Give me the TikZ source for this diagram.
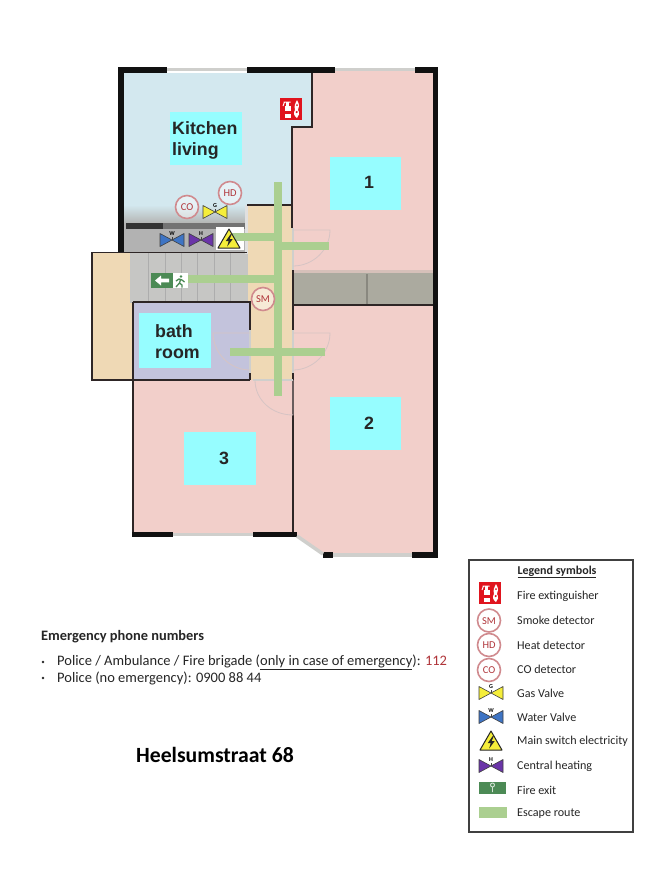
\documentclass[tikz,border=0pt]{standalone}
\usepackage{fontspec}
\setmainfont{Carlito}
\newfontfamily\roomfont{Liberation Sans}
\definecolor{pinkroom}{HTML}{F2CFCA}
\definecolor{blueroom}{HTML}{D3E8EF}
\definecolor{beigeroom}{HTML}{EFD9B5}
\definecolor{bathroomc}{HTML}{C3C3DC}
\definecolor{stairc}{HTML}{C6C6C4}
\definecolor{bandc}{HTML}{ABAA9F}
\definecolor{labelcyan}{HTML}{96FDFF}
\definecolor{routec}{HTML}{ABCF90}
\definecolor{exitgreen}{HTML}{4C8A55}
\definecolor{wallc}{HTML}{111111}
\definecolor{thinwall}{HTML}{2E2626}
\definecolor{glassc}{HTML}{CFCFCC}
\definecolor{doorc}{HTML}{D6C4C4}
\definecolor{detect}{HTML}{D08A8E}
\definecolor{detecttxt}{HTML}{B0353A}
\definecolor{firered}{HTML}{E0141E}
\definecolor{gasy}{HTML}{F5EE3A}
\definecolor{waterb}{HTML}{3E74C4}
\definecolor{heatp}{HTML}{6A34A8}
\definecolor{txtc}{HTML}{262626}
\tikzset{
  room/.style={fill=#1,draw=none},
  heavywall/.style={fill=wallc,draw=none},
  thin wall/.style={draw=thinwall,line width=1.8pt},
  glass/.style={draw=glassc,line width=3.5pt},
  doorleaf/.style={draw=doorc,line width=.8pt},
  route/.style={draw=routec,line width=7.5pt},
  labelbox/.style={fill=labelcyan,draw=none},
  roomlabel/.style={font=\roomfont\bfseries\fontsize{17.8}{21}\selectfont,text=black!85,align=left,inner sep=0pt},
  legendtext/.style={font=\fontsize{12.1}{14}\selectfont,text=txtc,anchor=west,inner sep=0pt},
  bodytext/.style={font=\fontsize{14.5}{17}\selectfont,text=txtc,anchor=west,inner sep=0pt},
  pics/detector/.style={code={
    \draw[detect,line width=1.6pt,fill=white,fill opacity=.45] (0,0) circle[radius=11.5pt];
    \node[text=detecttxt,font=\fontsize{10.5}{11}\selectfont,inner sep=0pt] (-t) at (0,0.5) {#1};
  }},
  pics/valve/.style 2 args={code={
    \draw[fill=#1,draw=black!75,line width=.6pt,line join=round] (-12,-6.5)--(0,0)--(-12,6.5)--cycle;
    \draw[fill=#1,draw=black!75,line width=.6pt,line join=round] (12,-6.5)--(0,0)--(12,6.5)--cycle;
    \draw[black!75,line width=.6pt] (0,0)--(0,-3);
    \node[font=\fontsize{6}{6}\selectfont\bfseries,inner sep=0pt,text=black] (-t) at (0,-6) {#2};
  }},
  pics/elec/.style={code={
    \draw[fill=gasy,draw=black!85,line width=1pt,line join=round] (0,-10)--(11,9)--(-11,9)--cycle;
    \fill[black!85] (1.8,-5)--(-3.2,2)--(-.3,2)--(-1.8,7.5)--(3.6,.2)--(.6,.2)--(2.8,-5)--cycle;
  }},
  pics/extinguisher/.style={code={
    \fill[firered] (-11,-11) rectangle (11,11);
    \fill[white] (-6.5,-3) rectangle (-.5,8.5);
    \fill[white] (-5,-7) rectangle (-2,-3);
    \draw[white,line width=1pt] (-7.5,-7)--(-.5,-7) (-6.5,-7)--(-8,-3);
    \fill[firered] (-6.5,2) rectangle (-.5,4.5);
    \fill[white] (6,-9)..controls (9,-4) and (8,-2)..(7,1)..controls (9,4) and (8,7)..(6,9)..controls (3,7) and (2,4)..(4,1)..controls (3,-3) and (4,-6)..(6,-9)--cycle;
    \fill[firered] (6,-4) circle[radius=1] (5.7,3) circle[radius=1.2];
  }}
}
\begin{document}
\begin{tikzpicture}[x=1pt,y=-1pt]
\useasboundingbox (0,0) rectangle (653,871);
\fill[white] (0,0) rectangle (653,871);
% rooms
\path[room=blueroom] (124,73) rectangle (312,127) (124,127) rectangle (293,225);
\path[room=pinkroom] (312,70) rectangle (433,127) (293,127) rectangle (433,275);
\path[room=pinkroom] (293,304) -- (433,304) -- (433,553) -- (323,553) -- (295,534) -- (293,534) -- cycle;
\path[room=pinkroom] (133,380) rectangle (293,534);
\path[room=beigeroom] (248,205) rectangle (293,380);
\path[room=beigeroom] (92,252) rectangle (132,380);
\path[room=stairc] (130,252) rectangle (248,303);
\path[room=bathroomc] (133,302) rectangle (250,380);
% gray band between the bedrooms
\fill[pinkroom!60!bandc] (293,270) rectangle (433,274);
\path[room=bandc] (293,273) rectangle (433,305);
\draw[bandc!80!black,line width=1.2pt] (367,274) -- (367,304);
% kitchen storage block
\shade[top color=blueroom,bottom color=stairc!90!black] (124,205) rectangle (245,224);
\fill[black!30] (124,224) rectangle (245,252);
\fill[black!55] (126,223) rectangle (245,229);
\fill[black!80] (126,223) rectangle (163,229);
\fill[black!12] (245,205) rectangle (248,254);
% stair treads
\foreach \sx in {148,165,181,197,214,230}
  \draw[black!32,line width=.9pt] (\sx,253) -- (\sx,302);
% outer walls
\path[heavywall] (118,67) rectangle (167,73);
\path[heavywall] (247,67) rectangle (335,73);
\path[heavywall] (415,67) rectangle (438,73);
\path[heavywall] (118,67) rectangle (124,253);
\path[heavywall] (433,67) rectangle (438,558);
\path[heavywall] (132,532) rectangle (173,537);
\path[heavywall] (253,532) rectangle (297,537);
\path[heavywall] (323,552) rectangle (333,558);
\path[heavywall] (412,552) rectangle (438,558);
% windows
\draw[glass] (167,69.5) -- (247,69.5);
\draw[glass] (335,69.5) -- (415,69.5);
\draw[glass] (173,534.5) -- (253,534.5);
\draw[glass] (333,555) -- (412,555);
\draw[glass] (297,536) -- (323,554);
% inner walls
\draw[thin wall] (312,73) -- (312,127) -- (292,127) -- (292,228);
\draw[thin wall] (247,205) -- (292,205);
\draw[thin wall] (92,252.5) -- (247,252.5);
\draw[thin wall] (92,252) -- (92,380) -- (250,380);
\draw[thin wall] (133,302) -- (250,302) -- (250,330);
\draw[thin wall] (250,373) -- (250,380);
\draw[thin wall] (133,302) -- (133,532);
\draw[thin wall] (293,270) -- (293,330);
\draw[thin wall] (293,373) -- (293,532);
\draw[thin wall] (293,305) -- (433,305);
% door openings
\draw[glassc,line width=2pt] (293,228) -- (293,270);
\draw[glassc,line width=2pt] (293,330) -- (293,373);
\draw[glassc,line width=2pt] (250,330) -- (250,373);
\draw[glassc,line width=2pt] (253,380) -- (293,380);
% door leaves
\draw[doorleaf] (293,230) -- (330,230) .. controls (330,250) and (313,266) .. (293,266);
\draw[doorleaf] (293,333) -- (330,333) .. controls (330,353) and (313,370) .. (293,370);
\draw[doorleaf] (250,333) -- (213,333) .. controls (213,353) and (230,370) .. (250,370);
\draw[doorleaf] (293,380) -- (293,415) .. controls (272,415) and (255,400) .. (255,380);
% label boxes
\path[labelbox] (170,112) rectangle (242,165);
\path[labelbox] (330,157) rectangle (401,210);
\path[labelbox] (330,397) rectangle (401,450);
\path[labelbox] (184,432) rectangle (256,485);
\path[labelbox] (139,313) rectangle (211,368);
\node[roomlabel,anchor=west] (kitchen) at (172,140) {Kitchen\\living};
\node[roomlabel] (one) at (369,182) {1};
\node[roomlabel] (two) at (369,423) {2};
\node[roomlabel] (three) at (224,458) {3};
\node[roomlabel,anchor=west] (bath) at (155,342) {bath\\room};
% electricity board background
\fill[white] (216,227) rectangle (244,250);
% escape routes
\draw[route] (278,182) -- (278,396);
\draw[route] (232,237) -- (278,237);
\draw[route] (278,246) -- (329,246);
\draw[route] (185,279) -- (278,279);
\draw[route] (230,352) -- (325,352);
% exit sign
\fill[exitgreen] (151,273) rectangle (173,288);
\fill[white] (173,273) rectangle (188,288);
\fill[white] (155,280.5) -- (161,275.5) -- (161,278.7) -- (169,278.7) -- (169,282.3) -- (161,282.3) -- (161,285.5) -- cycle;
\fill[exitgreen] (181,276.5) circle[radius=1.4];
\draw[exitgreen,line width=1.3pt,line join=round] (176,281) -- (179,279) -- (182,280) -- (184.5,282) (180.5,279.5) -- (179.5,283) -- (182,285) -- (182,287.5) (179.5,283) -- (176,287);
% symbols on the plan
\pic at (291,109) {extinguisher};
\pic (co) at (187,207) {detector=CO};
\pic (hd) at (230,193) {detector=HD};
\pic (sm) at (263,299) {detector=SM};
\pic (gas) at (215,212) {valve={gasy}{G}};
\pic (water) at (172,240) {valve={waterb}{W}};
\pic (heat) at (201,240) {valve={heatp}{H}};
\pic at (229,239) {elec};
% emergency text
\node[bodytext,font=\bfseries\fontsize{14.4}{17}\selectfont] (emerg) at (41,636.5) {Emergency phone numbers};
\fill[txtc] (43,662) circle[radius=1.4] (43,678) circle[radius=1.4];
\node[bodytext] (line1) at (57,662) {Police / Ambulance / Fire brigade (\underline{only in case of emergency}): \textcolor{detecttxt}{112}};
\node[bodytext] (line2) at (57,678) {Police (no emergency): 0900 88 44};
\node[bodytext,font=\bfseries\fontsize{21.7}{26}\selectfont,text=black] (address) at (136,755) {Heelsumstraat 68};
% legend
\draw[black!75,line width=1.2pt,fill=white] (469,560) rectangle (633,832);
\node[legendtext,font=\bfseries\fontsize{12}{14}\selectfont,anchor=center] (legendtitle) at (557,572) {\underline{Legend symbols}};
\pic at (490,593) {extinguisher};
\pic (lsm) at (489,620.5) {detector=SM};
\pic (lhd) at (489,645) {detector=HD};
\pic (lco) at (489,670) {detector=CO};
\pic (lgas) at (491,693) {valve={gasy}{G}};
\pic (lwater) at (491,717) {valve={waterb}{W}};
\pic at (491,741) {elec};
\pic (lheat) at (491,766) {valve={heatp}{H}};
\fill[exitgreen] (479,782) rectangle (506,794);
\draw[white!75!exitgreen,line width=.9pt] (492.5,785) circle[radius=2] (492.5,787) -- (492.5,792);
\fill[routec] (479,807) rectangle (507,818);
\node[legendtext] (l1) at (517,596) {Fire extinguisher};
\node[legendtext] (l2) at (517,620) {Smoke detector};
\node[legendtext] (l3) at (517,645) {Heat detector};
\node[legendtext] (l4) at (517,669) {CO detector};
\node[legendtext] (l5) at (517,693) {Gas Valve};
\node[legendtext] (l6) at (517,717) {Water Valve};
\node[legendtext] (l7) at (517,741) {Main switch electricity};
\node[legendtext] (l8) at (517,766) {Central heating};
\node[legendtext] (l9) at (517,790) {Fire exit};
\node[legendtext] (l10) at (517,814) {Escape route};
\end{tikzpicture}
\end{document}
